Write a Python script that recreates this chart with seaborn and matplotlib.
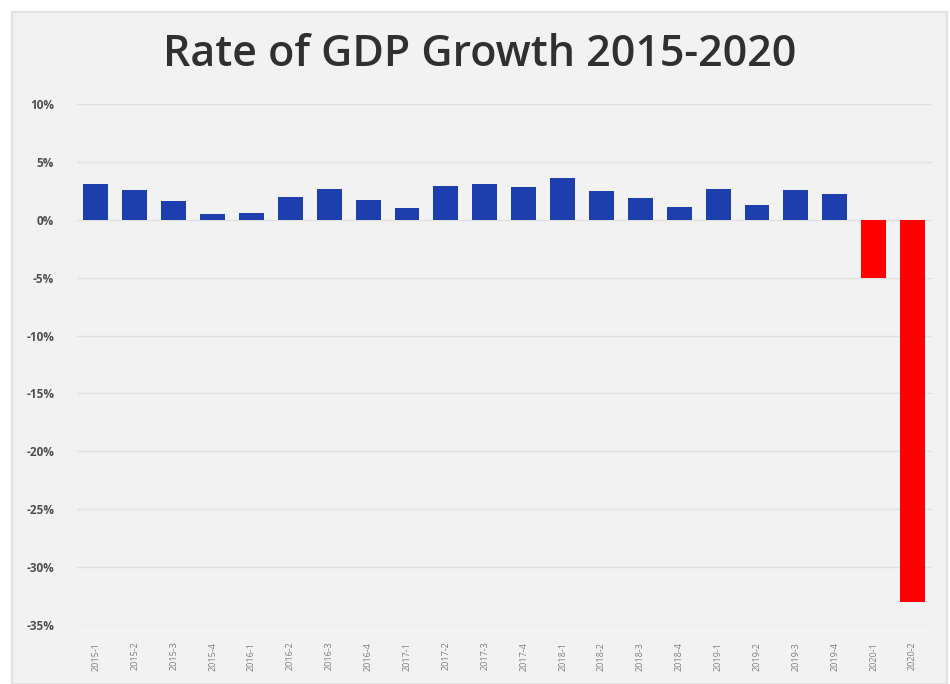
import matplotlib
matplotlib.use("Agg")
import matplotlib.pyplot as plt
import seaborn as sns
import pandas as pd
import numpy as np
from matplotlib.patches import Rectangle
from matplotlib.ticker import FuncFormatter, MultipleLocator

# Quarterly real GDP growth (annualized, %)
quarters = [
    "2015-1", "2015-2", "2015-3", "2015-4",
    "2016-1", "2016-2", "2016-3", "2016-4",
    "2017-1", "2017-2", "2017-3", "2017-4",
    "2018-1", "2018-2", "2018-3", "2018-4",
    "2019-1", "2019-2", "2019-3", "2019-4",
    "2020-1", "2020-2",
]
growth = [
    3.1, 2.6, 1.6, 0.5,
    0.6, 2.0, 2.7, 1.7,
    1.0, 2.9, 3.1, 2.8,
    3.6, 2.5, 1.9, 1.1,
    2.7, 1.3, 2.6, 2.2,
    -5.0, -33.0,
]

sns.set_theme(style="white")
plt.rcParams['font.family'] = ['Open Sans', 'DejaVu Sans']

df = pd.DataFrame({"quarter": quarters, "growth": growth})
df["sign"] = np.where(df["growth"] < 0, "neg", "pos")

W, H = 950, 684
fig = plt.figure(figsize=(W / 100, H / 100), dpi=100)
fig.patch.set_facecolor("white")

# light grey chart panel, behind everything
fig.patches.append(Rectangle((12 / W, 0), (947 - 12) / W, (H - 12) / H,
                             transform=fig.transFigure, facecolor="#f2f2f2",
                             edgecolor="#e2e2e2", linewidth=1.5, zorder=-10))

ax = fig.add_axes([76.5 / W, 1 - 625 / H, (932 - 76.5) / W, (625 - 104) / H])
ax.set_facecolor("none")
ax.set_zorder(1)

sns.barplot(data=df, x="quarter", y="growth", hue="sign",
            palette={"pos": "#1d3fae", "neg": "#ff0000"}, saturation=1,
            dodge=False, width=0.64, legend=False, ax=ax, zorder=3,
            linewidth=0, edgecolor="none")

ax.set_ylim(-35, 10)
ax.set_xlim(-0.5, len(quarters) - 0.5)
ax.yaxis.set_major_locator(MultipleLocator(5))
ax.yaxis.set_major_formatter(FuncFormatter(lambda v, p: f"{v:.0f}%"))
ax.grid(axis="y", color="#e0e0e0", linewidth=1.0, zorder=0)
ax.set_axisbelow(True)
for s in ax.spines.values():
    s.set_visible(False)
ax.set_xlabel("")
ax.set_ylabel("")

ax.tick_params(axis="y", length=0, pad=16, labelsize=8.5, labelcolor="#505050")
ax.tick_params(axis="x", length=0, pad=12, labelsize=6.5, labelcolor="#808080",
               rotation=90)
for lbl in ax.get_yticklabels():
    lbl.set_fontweight("bold")

fig.text(480 / W, 1 - 55 / H, "Rate of GDP Growth 2015-2020",
         ha="center", va="center", fontsize=31, fontweight="semibold",
         color="#303030", zorder=5)

fig.savefig("out.png", dpi=100)
